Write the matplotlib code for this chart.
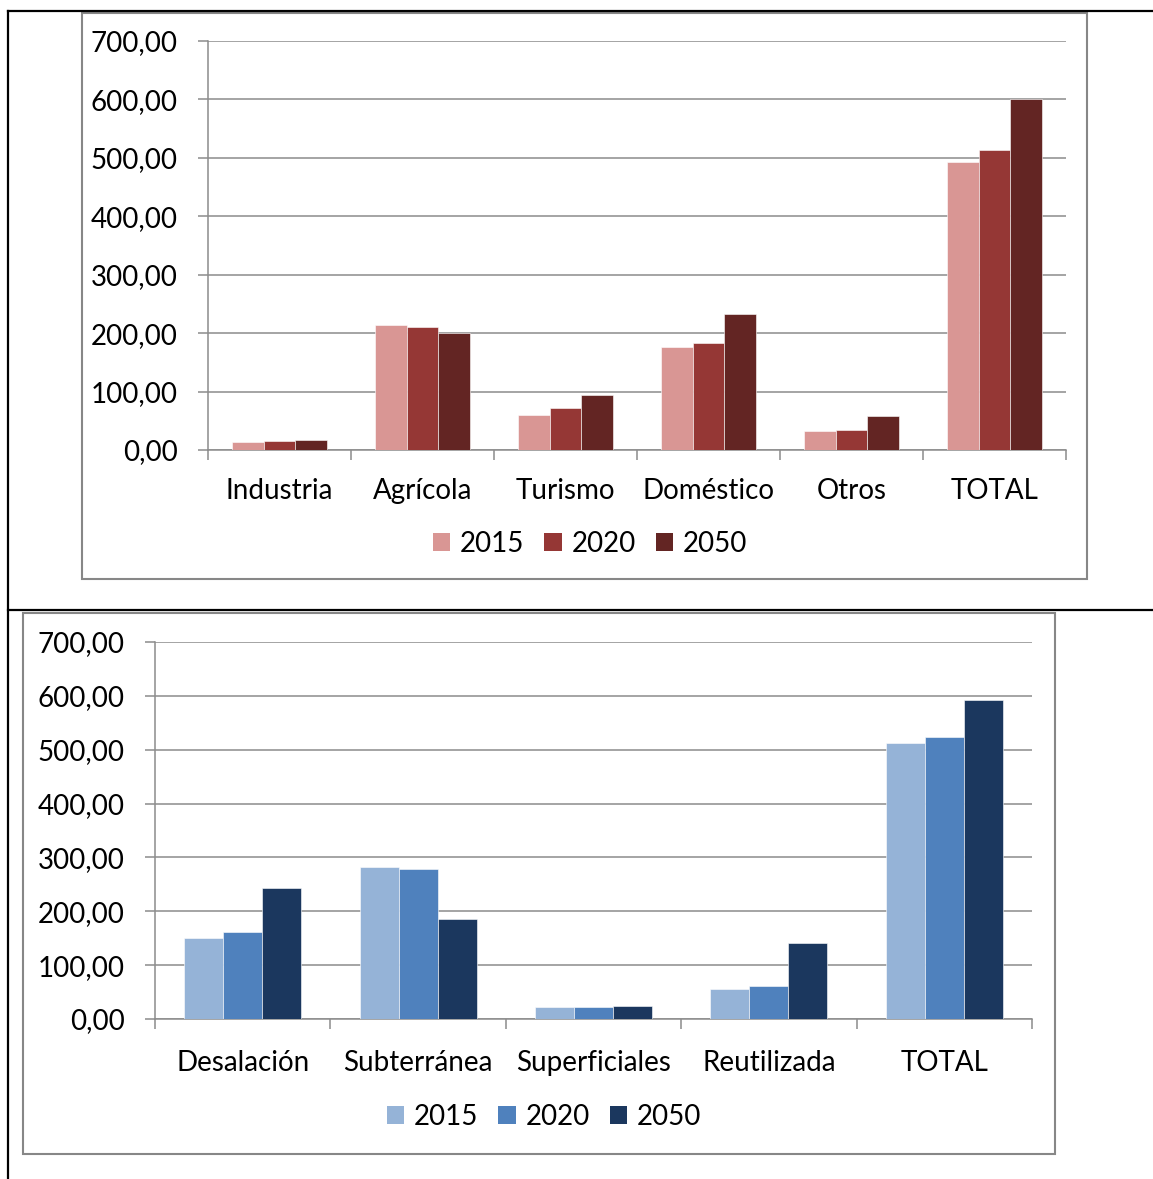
import numpy as np
import matplotlib
matplotlib.use("Agg")
import matplotlib.pyplot as plt
from matplotlib.lines import Line2D
from matplotlib.patches import Rectangle, Patch

# Datos
ANIOS = ["2015", "2020", "2050"]

USOS = ["Industria", "Agrícola", "Turismo", "Doméstico", "Otros", "TOTAL"]
USOS_2015 = [13.7, 214.0, 59.4, 175.8, 32.5, 493.7]
USOS_2020 = [15.4, 210.6, 72.0, 183.0, 34.0, 514.0]
USOS_2050 = [17.0, 200.9, 94.0, 232.0, 57.6, 600.0]

FUENTES = ["Desalación", "Subterránea", "Superficiales", "Reutilizada", "TOTAL"]
FUENTES_2015 = [151.0, 282.8, 22.8, 56.3, 513.0]
FUENTES_2020 = [161.5, 278.0, 22.8, 62.0, 523.6]
FUENTES_2050 = [243.8, 185.0, 24.7, 140.5, 591.7]

ROJOS = ["#D99694", "#953735", "#632523"]
AZULES = ["#95B3D7", "#4F81BD", "#1B375E"]

W, H = 1153, 1179
plt.rcParams["font.family"] = ["Lato", "DejaVu Sans"]
FS = 20
GRIS = "#8C8C8C"


def ejes_px(fig, x0, y0, x1, y1):
    return fig.add_axes([x0 / W, 1 - y1 / H, (x1 - x0) / W, (y1 - y0) / H])


def rect_px(fig, x0, y0, x1, y1, color, lw):
    fig.patches.append(Rectangle((x0 / W, 1 - y1 / H), (x1 - x0) / W, (y1 - y0) / H,
                                 transform=fig.transFigure, fill=False,
                                 edgecolor=color, linewidth=lw))


def linea_px(fig, xs, ys, color="black", lw=1.6):
    fig.lines.append(Line2D([x / W for x in xs], [1 - y / H for y in ys],
                            transform=fig.transFigure, color=color, linewidth=lw))


def barras(ax, cats, series, colores, pad_x):
    n = len(cats)
    x = np.arange(n) + 0.5
    w = 1 / 4.5
    for i, (vals, c) in enumerate(zip(series, colores)):
        ax.bar(x + (i - 1) * w, vals, width=w, color=c, edgecolor="white",
               linewidth=0.4, zorder=3)
    ax.set_xlim(0, n)
    ax.set_ylim(0, 700)
    yt = list(range(0, 701, 100))
    ax.set_yticks(yt)
    ax.set_yticklabels([f"{v:.2f}".replace(".", ",") for v in yt], fontsize=FS)
    ax.yaxis.grid(True, color=GRIS, linewidth=1.1, zorder=0)
    ax.set_axisbelow(True)
    ax.set_xticks(range(n + 1))
    ax.set_xticklabels([])
    ax.set_xticks(x, minor=True)
    ax.set_xticklabels(cats, minor=True, fontsize=FS)
    ax.tick_params(axis="x", which="major", length=7.2, color=GRIS, width=1.1)
    ax.tick_params(axis="x", which="minor", length=0, pad=pad_x)
    ax.tick_params(axis="y", length=7.2, color=GRIS, width=1.1, pad=14.5)
    for s in ["top", "right"]:
        ax.spines[s].set_visible(False)
    for s in ["left", "bottom"]:
        ax.spines[s].set_color(GRIS)
        ax.spines[s].set_linewidth(1.1)


def leyenda(fig, colores, cx, cy):
    handles = [Patch(facecolor=c, edgecolor="none") for c in colores]
    fig.legend(handles, ANIOS, loc="center", bbox_to_anchor=(cx / W, 1 - cy / H),
               ncol=3, frameon=False, fontsize=FS, handlelength=0.62,
               handleheight=0.62, handletextpad=0.35, columnspacing=0.72,
               borderaxespad=0)


fig = plt.figure(figsize=(W / 100, H / 100), dpi=100)

# Líneas de la tabla
linea_px(fig, [8, W], [11, 11])
linea_px(fig, [8, W], [610, 610])
linea_px(fig, [8, 8], [11, H])

# Gráfico superior: usos
rect_px(fig, 82, 13, 1087, 579, "#878787", 1.5)
ax1 = ejes_px(fig, 208, 41, 1066, 450)
barras(ax1, USOS, [USOS_2015, USOS_2020, USOS_2050], ROJOS, 20)
leyenda(fig, ROJOS, 590, 544)

# Gráfico inferior: fuentes
rect_px(fig, 23, 613, 1055, 1154, "#878787", 1.5)
ax2 = ejes_px(fig, 155, 642, 1032, 1019)
barras(ax2, FUENTES, [FUENTES_2015, FUENTES_2020, FUENTES_2050], AZULES, 22)
leyenda(fig, AZULES, 544, 1117)

fig.savefig("out.png", dpi=100)
